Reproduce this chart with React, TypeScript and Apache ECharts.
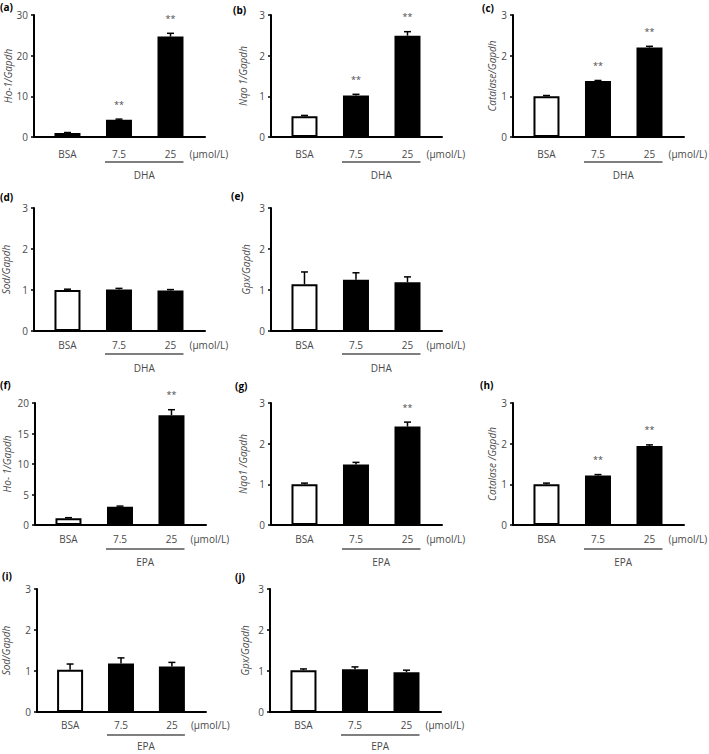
import React, { useEffect, useRef } from "react";
import * as echarts from "echarts";

const categories = ["BSA", "7.5", "25"];
const unitLabel = "(μmol/L)";
const groupDHA = "DHA";
const groupEPA = "EPA";

// (a) Ho-1 DHA
const ho1DHA = [1.0, 4.25, 24.7];
const ho1DHAErr = [0.1, 0.15, 0.8];
const ho1DHASig = ["", "**", "**"];
// (b) Nqo1 DHA
const nqo1DHA = [0.51, 1.02, 2.49];
const nqo1DHAErr = [0.02, 0.03, 0.1];
const nqo1DHASig = ["", "**", "**"];
// (c) Catalase DHA
const catDHA = [1.0, 1.38, 2.2];
const catDHAErr = [0.02, 0.01, 0.03];
const catDHASig = ["", "**", "**"];
// (d) Sod DHA
const sodDHA = [1.0, 1.01, 0.99];
const sodDHAErr = [0.02, 0.03, 0.02];
const sodDHASig = ["", "", ""];
// (e) Gpx DHA
const gpxDHA = [1.14, 1.25, 1.19];
const gpxDHAErr = [0.3, 0.17, 0.13];
const gpxDHASig = ["", "", ""];
// (f) Ho-1 EPA
const ho1EPA = [1.1, 3.0, 18.0];
const ho1EPAErr = [0.1, 0.1, 0.9];
const ho1EPASig = ["", "", "**"];
// (g) Nqo1 EPA
const nqo1EPA = [1.0, 1.49, 2.42];
const nqo1EPAErr = [0.03, 0.05, 0.11];
const nqo1EPASig = ["", "", "**"];
// (h) Catalase EPA
const catEPA = [1.0, 1.22, 1.94];
const catEPAErr = [0.03, 0.02, 0.03];
const catEPASig = ["", "**", "**"];
// (i) Sod EPA
const sodEPA = [1.03, 1.18, 1.11];
const sodEPAErr = [0.14, 0.14, 0.1];
const sodEPASig = ["", "", ""];
// (j) Gpx EPA
const gpxEPA = [1.02, 1.04, 0.97];
const gpxEPAErr = [0.03, 0.06, 0.05];
const gpxEPASig = ["", "", ""];

const FONT = "'Open Sans', 'Noto Sans', sans-serif";
const TXT = "#4a4a4a";

type Panel = {
  letter: string;
  yName: string;
  values: number[];
  errs: number[];
  sigs: string[];
  group: string;
  max: number;
  interval: number;
  left: number;
  top: number;
  height: number;
  nameGap: number;
  labelOff: number;
  underOff: number;
  groupOff: number;
  lx: number;
  ly: number;
};

const rows = [
  { top: 15, height: 122, labelOff: 17, underOff: 25, groupOff: 38 },
  { top: 208, height: 123, labelOff: 14, underOff: 23, groupOff: 37 },
  { top: 403, height: 122, labelOff: 14, underOff: 24, groupOff: 37 },
  { top: 589, height: 123, labelOff: 13, underOff: 23, groupOff: 34 },
];

const mk = (
  letter: string,
  yName: string,
  values: number[],
  errs: number[],
  sigs: string[],
  group: string,
  max: number,
  interval: number,
  row: number,
  left: number,
  nameGap: number,
  lx: number,
  ly: number
): Panel => ({
  letter,
  yName,
  values,
  errs,
  sigs,
  group,
  max,
  interval,
  left,
  nameGap,
  lx,
  ly,
  ...rows[row],
});

const panels: Panel[] = [
  mk("(a)", "Ho-1/Gapdh", ho1DHA, ho1DHAErr, ho1DHASig, groupDHA, 30, 10, 0, 34, 21, 0, 7),
  mk("(b)", "Nqo 1/Gapdh", nqo1DHA, nqo1DHAErr, nqo1DHASig, groupDHA, 3, 1, 0, 271, 23, 233, 10),
  mk("(c)", "Catalase/Gapdh", catDHA, catDHAErr, catDHASig, groupDHA, 3, 1, 0, 513, 16, 482, 8),
  mk("(d)", "Sod/Gapdh", sodDHA, sodDHAErr, sodDHASig, groupDHA, 3, 1, 1, 34, 23, 0, 197),
  mk("(e)", "Gpx/Gapdh", gpxDHA, gpxDHAErr, gpxDHASig, groupDHA, 3, 1, 1, 271, 20, 231, 196),
  mk("(f)", "Ho- 1/Gapdh", ho1EPA, ho1EPAErr, ho1EPASig, groupEPA, 20, 5, 2, 35, 23, 0, 385),
  mk("(g)", "Nqo1 /Gapdh", nqo1EPA, nqo1EPAErr, nqo1EPASig, groupEPA, 3, 1, 2, 271, 23, 235, 386),
  mk("(h)", "Catalase /Gapdh", catEPA, catEPAErr, catEPASig, groupEPA, 3, 1, 2, 513, 16, 480, 385),
  mk("(i)", "Sod/Gapdh", sodEPA, sodEPAErr, sodEPASig, groupEPA, 3, 1, 3, 35, 26, 2, 576),
  mk("(j)", "Gpx/Gapdh", gpxEPA, gpxEPAErr, gpxEPASig, groupEPA, 3, 1, 3, 270, 20, 235, 577),
];

const GRID_W = 171;
const X_MIN = -0.65;
const X_MAX = 2.67;
const BAR_W = 26;

function buildOption() {
  const grid: any[] = [];
  const xAxis: any[] = [];
  const yAxis: any[] = [];
  const series: any[] = [];
  const graphic: any[] = [];

  panels.forEach((p, k) => {
    grid.push({ left: p.left, top: p.top, width: GRID_W, height: p.height, containLabel: false });
    xAxis.push({
      type: "value",
      gridIndex: k,
      min: X_MIN,
      max: X_MAX,
      axisLine: { show: true, onZero: false, lineStyle: { color: "#000", width: 2 } },
      axisTick: { show: false },
      axisLabel: { show: false },
      splitLine: { show: false },
    });
    yAxis.push({
      type: "value",
      gridIndex: k,
      min: 0,
      max: p.max,
      interval: p.interval,
      name: p.yName,
      nameLocation: "middle",
      nameGap: p.nameGap,
      nameTextStyle: { fontFamily: FONT, fontSize: 10, fontStyle: "italic", color: TXT },
      axisLine: { show: true, onZero: false, lineStyle: { color: "#000", width: 2 } },
      axisTick: { show: true, length: 3, lineStyle: { color: "#000", width: 1.5 } },
      axisLabel: { margin: 6, fontFamily: FONT, fontSize: 10, color: TXT },
      splitLine: { show: false },
    });
    series.push({
      type: "bar",
      xAxisIndex: k,
      yAxisIndex: k,
      barWidth: BAR_W,
      data: p.values.map((v, i) => ({
        value: [i, v],
        itemStyle:
          i === 0
            ? { color: "#fff", borderColor: "#000", borderWidth: 2 }
            : { color: "#000" },
      })),
      z: 2,
    });
    series.push({
      type: "custom",
      xAxisIndex: k,
      yAxisIndex: k,
      z: 3,
      clip: false,
      data: p.values.map((v, i) => [i, v, p.errs[i]]),
      renderItem: (params: any, api: any) => {
        const i = api.value(0);
        const v = api.value(1);
        const e = api.value(2);
        const base = api.coord([i, 0]);
        const top = api.coord([i, v]);
        const et = api.coord([i, v + e]);
        const children: any[] = [];
        if (et[1] < top[1] - 0.5) {
          children.push({
            type: "line",
            shape: { x1: top[0], y1: top[1], x2: et[0], y2: et[1] },
            style: { stroke: "#000", lineWidth: 1.5 },
          });
        }
        children.push({
          type: "line",
          shape: { x1: et[0] - 3.5, y1: et[1], x2: et[0] + 3.5, y2: et[1] },
          style: { stroke: "#000", lineWidth: 1.5 },
        });
        const sig = p.sigs[i];
        if (sig) {
          children.push({
            type: "text",
            x: et[0],
            y: et[1] - 15,
            style: {
              text: sig,
              fill: TXT,
              font: `9px ${FONT}`,
              align: "center",
              verticalAlign: "middle",
            },
          });
        }
        children.push({
          type: "text",
          x: base[0],
          y: base[1] + p.labelOff,
          style: {
            text: categories[i],
            fill: TXT,
            font: `10px ${FONT}`,
            align: "center",
            verticalAlign: "middle",
          },
        });
        if (i === 1) {
          const end = api.coord([2, 0]);
          const x1 = base[0] - BAR_W / 2 - 1;
          const x2 = end[0] + BAR_W / 2;
          children.push({
            type: "line",
            shape: { x1, y1: base[1] + p.underOff, x2, y2: base[1] + p.underOff },
            style: { stroke: "#000", lineWidth: 1.2 },
          });
          children.push({
            type: "text",
            x: (x1 + x2) / 2,
            y: base[1] + p.groupOff,
            style: {
              text: p.group,
              fill: TXT,
              font: `10px ${FONT}`,
              align: "center",
              verticalAlign: "middle",
            },
          });
        }
        if (i === 2) {
          children.push({
            type: "text",
            x: base[0] + 19,
            y: base[1] + p.labelOff,
            style: {
              text: unitLabel,
              fill: TXT,
              font: `10px ${FONT}`,
              align: "left",
              verticalAlign: "middle",
            },
          });
        }
        return { type: "group", children };
      },
    });
    graphic.push({
      type: "text",
      x: p.lx,
      y: p.ly,
      style: {
        text: p.letter,
        fill: "#000",
        font: `bold 10px ${FONT}`,
        align: "left",
        verticalAlign: "middle",
      },
    });
  });

  return { animation: false, backgroundColor: "#fff", grid, xAxis, yAxis, series, graphic };
}

export default function App() {
  const ref = useRef<HTMLDivElement>(null);
  useEffect(() => {
    if (!ref.current) return;
    const chart = echarts.init(ref.current, undefined, { renderer: "svg" });
    chart.setOption(buildOption() as any);
    return () => chart.dispose();
  }, []);
  return (
    <div
      ref={ref}
      style={{ position: "fixed", left: 0, top: 0, width: 709, height: 754, background: "#fff" }}
    />
  );
}
